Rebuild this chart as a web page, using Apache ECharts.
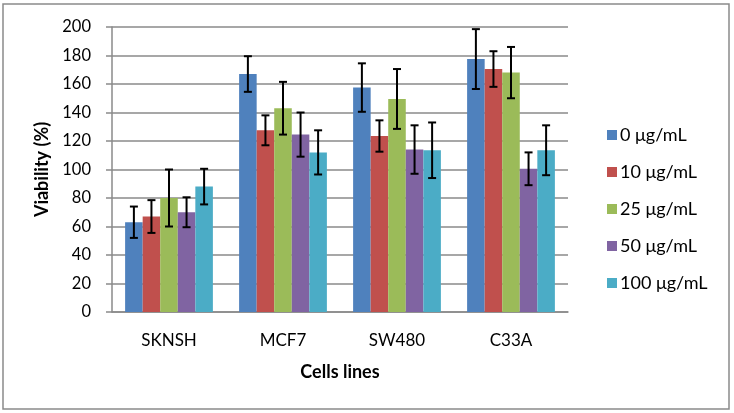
<!DOCTYPE html>
<html>
<head>
<meta charset="utf-8">
<script src="https://cdn.jsdelivr.net/npm/echarts@6/dist/echarts.min.js"></script>
<style>
  html, body { margin: 0; padding: 0; background: #fff; }
  #chart { width: 734px; height: 413px; }
</style>
</head>
<body>
<div id="chart"></div>
<script>
// 数据
var categories = ['SKNSH', 'MCF7', 'SW480', 'C33A'];
var seriesNames = ['0 μg/mL', '10 μg/mL', '25 μg/mL', '50 μg/mL', '100 μg/mL'];
var colors = ['#4F81BD', '#C0504D', '#9BBB59', '#8064A2', '#4BACC6'];

var v0   = [63, 167, 157.5, 177.5];
var v10  = [67, 127.5, 123.5, 170.5];
var v25  = [80, 143, 149.5, 168];
var v50  = [70, 124.5, 114, 100.5];
var v100 = [88, 112, 113.5, 113.5];

// 误差
var e0   = [11, 12.5, 17, 21];
var e10  = [11.5, 10.5, 11, 12.5];
var e25  = [20, 18.5, 21, 18];
var e50  = [10.5, 15.5, 17, 11.5];
var e100 = [12.5, 15.5, 19.5, 17.5];

var yTicks = [0, 20, 40, 60, 80, 100, 120, 140, 160, 180, 200];

var values = [v0, v10, v25, v50, v100];
var errors = [e0, e10, e25, e50, e100];

var catGap = 0.23;
var font = 'Lato';

var chart = echarts.init(document.getElementById('chart'));

var series = [];
values.forEach(function (vals, i) {
    series.push({
        name: seriesNames[i],
        type: 'bar',
        data: vals,
        barGap: '0%',
        barCategoryGap: (catGap * 100) + '%',
        itemStyle: { color: colors[i] },
        z: 2
    });
});

// 误差线
values.forEach(function (vals, i) {
    var errData = vals.map(function (v, k) {
        return [k, v + errors[i][k], v - errors[i][k]];
    });
    series.push({
        type: 'custom',
        name: seriesNames[i] + ' err',
        data: errData,
        z: 10,
        silent: true,
        renderItem: function (params, api) {
            var k = api.value(0);
            var hi = api.coord([k, api.value(1)]);
            var lo = api.coord([k, api.value(2)]);
            var band = api.size([1, 0])[0];
            var bw = band * (1 - catGap) / values.length;
            var x = hi[0] + (i - (values.length - 1) / 2) * bw;
            var cap = 4;
            var st = { stroke: '#000', lineWidth: 2 };
            return {
                type: 'group',
                children: [
                    { type: 'line', shape: { x1: x, y1: hi[1], x2: x, y2: lo[1] }, style: st },
                    { type: 'line', shape: { x1: x - cap, y1: hi[1], x2: x + cap, y2: hi[1] }, style: st },
                    { type: 'line', shape: { x1: x - cap, y1: lo[1], x2: x + cap, y2: lo[1] }, style: st }
                ]
            };
        }
    });
});

var option = {
    animation: false,
    textStyle: { fontFamily: font },
    graphic: [{
        type: 'rect',
        shape: { x: 3, y: 4, width: 726, height: 405 },
        style: { fill: 'none', stroke: '#8a8a8a', lineWidth: 1.5 },
        silent: true
    }],
    grid: { left: 112, right: 166, top: 27, bottom: 101 },
    legend: {
        orient: 'vertical',
        left: 602,
        top: 121,
        itemWidth: 10,
        itemHeight: 10,
        itemGap: 19,
        icon: 'rect',
        data: seriesNames,
        textStyle: { fontFamily: font, fontSize: 18, color: '#000', lineHeight: 18, padding: [0, 0, 0, -2] }
    },
    xAxis: {
        type: 'category',
        data: categories,
        name: 'Cells lines',
        nameLocation: 'middle',
        nameGap: 51,
        nameTextStyle: { fontFamily: font, fontSize: 18, fontWeight: 'bold', color: '#000' },
        axisLine: { lineStyle: { color: '#8a8a8a', width: 1.5 } },
        axisTick: { show: false },
        axisLabel: { fontFamily: font, fontSize: 17, color: '#000', margin: 20 }
    },
    yAxis: {
        type: 'value',
        min: yTicks[0],
        max: yTicks[yTicks.length - 1],
        interval: yTicks[1] - yTicks[0],
        name: 'Viability (%)',
        nameLocation: 'middle',
        nameGap: 58,
        nameTextStyle: { fontFamily: font, fontSize: 18, fontWeight: 'bold', color: '#000' },
        axisLine: { show: true, lineStyle: { color: '#8a8a8a', width: 1.5 } },
        axisTick: { show: true, length: 6, lineStyle: { color: '#8a8a8a', width: 1.5 } },
        axisLabel: { fontFamily: font, fontSize: 16.5, color: '#000', margin: 21 },
        splitLine: { lineStyle: { color: '#8a8a8a', width: 1.5 } }
    },
    series: series
};

chart.setOption(option);
</script>
</body>
</html>
